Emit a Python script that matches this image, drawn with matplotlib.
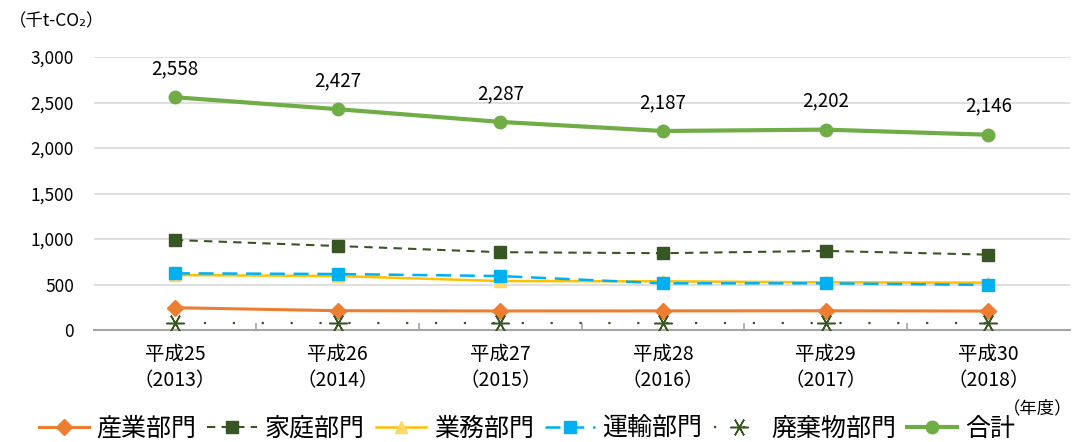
import matplotlib
matplotlib.use("Agg")
import matplotlib.pyplot as plt
from matplotlib.ticker import FuncFormatter

plt.rcParams['font.family'] = ['Noto Sans CJK JP', 'DejaVu Sans']

categories = ["平成25\n（2013）", "平成26\n（2014）", "平成27\n（2015）",
              "平成28\n（2016）", "平成29\n（2017）", "平成30\n（2018）"]
industry = [245, 212, 209, 210, 211, 208]
household = [989, 923, 855, 844, 869, 828]
commercial = [604, 593, 538, 535, 524, 520]
transport = [623, 615, 593, 513, 513, 495]
waste = [75, 75, 75, 75, 75, 75]
total = [2558, 2427, 2287, 2187, 2202, 2146]

fig = plt.figure(figsize=(10.75, 4.42), dpi=100)
ax = fig.add_axes([0.087, 0.2534, 0.908, 0.6176])
x = list(range(len(categories)))

ax.plot(x, industry, color="#ED7D31", lw=2.2, marker="D", ms=8,
        label="産業部門", zorder=4)
ax.plot(x, household, color="#375623", lw=1.5, ls=(0, (4, 3)), marker="s", ms=9,
        label="家庭部門", zorder=4)
ax.plot(x, commercial, color="#FFC000", lw=1.8, marker="^", ms=8,
        markerfacecolor="#FFD966", markeredgecolor="#FFD966",
        label="業務部門", zorder=4)
ax.plot(x, transport, color="#00B0F0", lw=1.8, ls=(0, (6, 3.5)), marker="s", ms=9,
        label="運輸部門", zorder=5)
ax.plot(x, waste, color="#375623", lw=1.6, ls=(0, (1, 12)), marker=(6, 2, 90), ms=13,
        mew=1.1, label="廃棄物部門", zorder=4)
ax.plot(x, total, color="#70AD47", lw=3, marker="o", ms=9,
        label="合計", zorder=6)

for xi, v in zip(x, total):
    ax.annotate(f"{v:,}", (xi, v), xytext=(0, 13), textcoords="offset points",
                ha="center", va="bottom", fontsize=13.5, color="#000000")

ax.set_xlim(-0.5, len(categories) - 0.5)
ax.set_ylim(0, 3000)
ax.set_yticks(range(0, 3001, 500))
ax.yaxis.set_major_formatter(FuncFormatter(lambda v, p: f"{int(v):,}"))
ax.grid(axis="y", color="#D9D9D9", lw=1.2)
ax.set_axisbelow(True)
for s in ["top", "right", "left"]:
    ax.spines[s].set_visible(False)
ax.spines["bottom"].set_color("#A6A6A6")
ax.spines["bottom"].set_linewidth(1.5)
ax.tick_params(axis="y", length=0, labelsize=12.5, pad=14)
ax.set_xticks(x)
ax.set_xticklabels(categories, fontsize=14, linespacing=1.3)
ax.tick_params(axis="x", length=0, pad=10)
ax.set_xticks([i + 0.5 for i in x[:-1]], minor=True)
ax.tick_params(axis="x", which="minor", direction="in", length=5, color="#A6A6A6", width=1.2)

fig.text(0.008, 0.952, "（千t-CO₂）", fontsize=12.5, ha="left", va="center")
fig.text(0.998, 0.077, "（年度）", fontsize=12.5, ha="right", va="center")

leg = fig.legend(loc="lower center", bbox_to_anchor=(0.49, -0.05), ncol=6,
                 frameon=False, fontsize=18, handlelength=2.0, columnspacing=0.45,
                 handletextpad=0.3)
fig.savefig("out.png", dpi=100)
